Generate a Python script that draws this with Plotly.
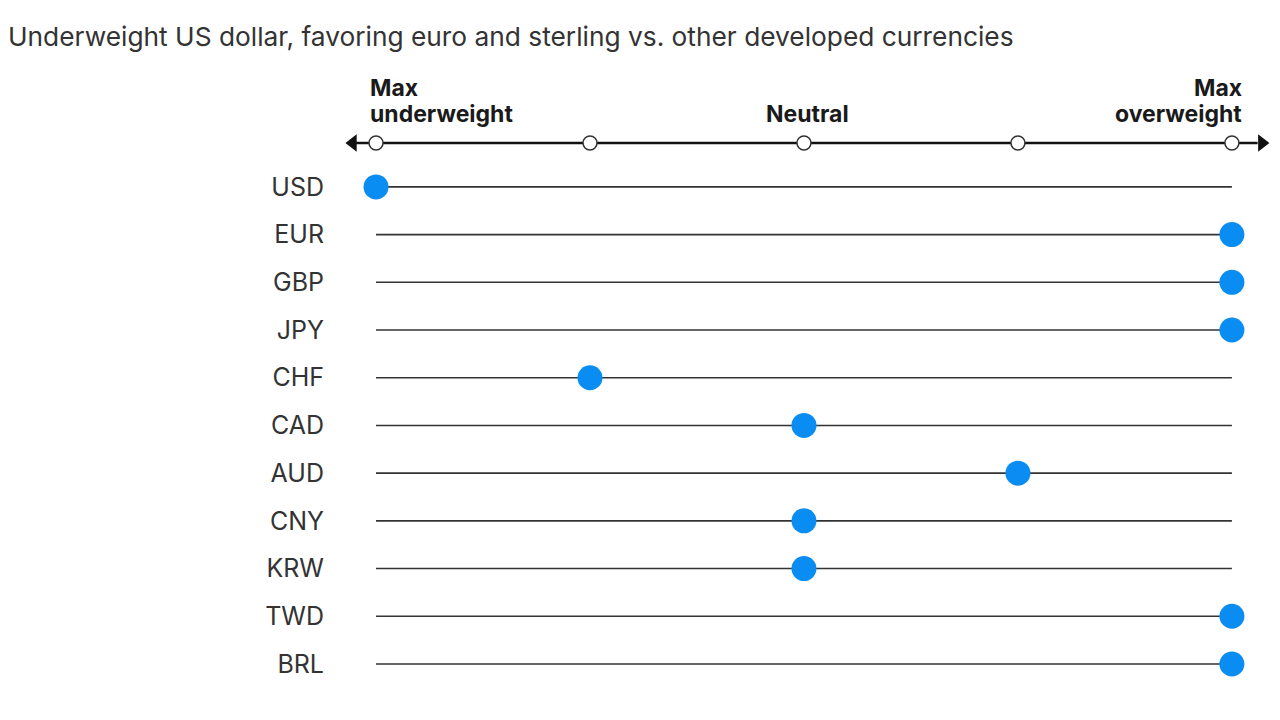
import plotly.graph_objects as go

title = "Underweight US dollar, favoring euro and sterling vs. other developed currencies"
currencies = ["USD", "EUR", "GBP", "JPY", "CHF", "CAD", "AUD", "CNY", "KRW", "TWD", "BRL"]
positions = [-2, 2, 2, 2, -1, 0, 1, 0, 0, 2, 2]
scale_ticks = [-2, -1, 0, 1, 2]
scale_min, scale_max = -2, 2

rows = list(range(len(currencies)))
axis_row = -0.92

fig = go.Figure()

# row guide lines
lx, ly = [], []
for r in rows:
    lx += [scale_min, scale_max, None]
    ly += [r, r, None]
fig.add_trace(go.Scatter(x=lx, y=ly, mode="lines",
                         line=dict(color="#333333", width=1.6),
                         hoverinfo="skip", showlegend=False))

# scale axis line
fig.add_trace(go.Scatter(x=[scale_min - 0.1, scale_max + 0.12], y=[axis_row, axis_row],
                         mode="lines", line=dict(color="#111111", width=2.5),
                         hoverinfo="skip", showlegend=False))
# arrowheads
fig.add_trace(go.Scatter(x=[scale_min - 0.108], y=[axis_row], mode="markers",
                         marker=dict(symbol="triangle-left", size=15, color="#111111"),
                         hoverinfo="skip", showlegend=False))
fig.add_trace(go.Scatter(x=[scale_max + 0.14], y=[axis_row], mode="markers",
                         marker=dict(symbol="triangle-right", size=15, color="#111111"),
                         hoverinfo="skip", showlegend=False))
# hollow tick circles
fig.add_trace(go.Scatter(x=scale_ticks, y=[axis_row] * len(scale_ticks), mode="markers",
                         marker=dict(symbol="circle", size=14, color="white",
                                     line=dict(color="#333333", width=1.5)),
                         hoverinfo="skip", showlegend=False))

# position dots
fig.add_trace(go.Scatter(x=positions, y=rows, mode="markers",
                         marker=dict(symbol="circle", size=25, color="#0A8DF2"),
                         hovertext=currencies, showlegend=False))

hdr_font = dict(family="Inter, Roboto, sans-serif", size=23, color="#1a1a1a")
headers = [
    (scale_min, "Max", "left", -8, 44),
    (scale_min, "underweight", "left", -8, 18),
    (0, "Neutral", "center", 4, 18),
    (scale_max, "Max", "right", 12, 44),
    (scale_max, "overweight", "right", 12, 18),
]
for hx, htxt, anchor, xs, ys in headers:
    fig.add_annotation(x=hx, y=axis_row, text="<b>" + htxt + "</b>",
                       showarrow=False, xanchor=anchor, yanchor="middle",
                       xshift=xs, yshift=ys + 11, font=hdr_font)

fig.update_layout(
    width=1280, height=720,
    margin=dict(l=337, r=18, t=52, b=28),
    paper_bgcolor="white", plot_bgcolor="white",
    title=dict(text=title, x=0, xref="container", xanchor="left",
               y=0.96, yanchor="middle",
               font=dict(family="Inter, Roboto, sans-serif", size=26.3, color="#333333")),
    xaxis=dict(range=[-2.145, 2.178], visible=False, fixedrange=True),
    yaxis=dict(range=[10.755, -2.66], tickvals=rows, ticktext=currencies,
               showgrid=False, zeroline=False, showline=False, ticks="",
               ticklabelstandoff=20,
               tickfont=dict(family="Inter, Roboto, sans-serif", size=25, color="#333333")),
)

fig.write_html("out.html")
